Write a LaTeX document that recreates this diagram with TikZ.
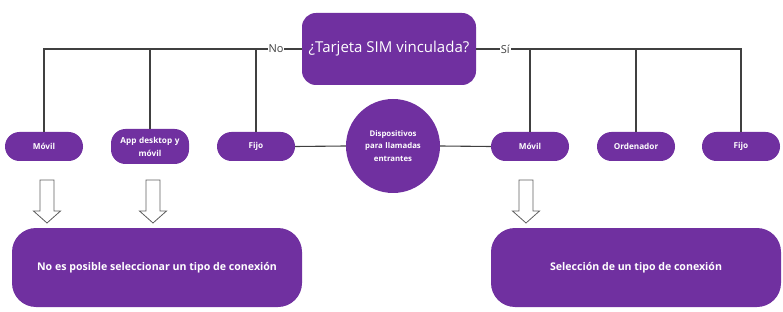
\documentclass[tikz,border=0pt]{standalone}
\usepackage{fontspec}
\setmainfont{Open Sans}
\usepackage{xcolor}
\usepackage{tikz}
\usetikzlibrary{positioning,calc}
\definecolor{cPurple}{HTML}{7030A0}
\definecolor{cLine}{HTML}{404040}
\definecolor{cArrow}{HTML}{606060}
\tikzset{
  box/.style    = {fill=cPurple, text=white, align=center, inner sep=2pt},
  question/.style = {box, rounded corners=14pt, minimum width=174pt,
                  minimum height=72pt, font=\fontsize{15}{17}\selectfont},
  pill/.style   = {box, rounded corners=14.5pt, minimum width=78pt,
                  minimum height=29pt, text width=74pt,
                  font=\bfseries\fontsize{8.2}{13}\selectfont},
  hub/.style    = {box, circle, minimum size=94pt, text width=66pt,
                  font=\bfseries\fontsize{7.8}{12.5}\selectfont},
  result/.style = {box, rounded corners=24pt, minimum width=290pt,
                  minimum height=79pt, font=\bfseries\fontsize{10.6}{13}\selectfont},
  link/.style   = {draw=cLine, line width=1.1pt},
  answer/.style = {fill=white, text=cLine, inner sep=1pt,
                  font=\fontsize{11}{13}\selectfont},
  hollow/.style = {draw=cArrow, fill=white, line width=0.8pt},
}

\begin{document}
\begin{tikzpicture}[x=1pt, y=-1pt]
  \useasboundingbox (0,0) rectangle (783,312);
  % question and the two branches
  \node[question] (sim) at (389,49) {¿Tarjeta SIM vinculada?};
  \node[pill] (movilNo) at (44,146.5)  {Móvil};
  \node[pill, minimum height=35pt] (appNo) at (150,146.5) {App desktop y\\móvil};
  \node[pill] (fijoNo)  at (256,146.5) {Fijo};
  \node[pill] (movilSi) at (530,146.5) {Móvil};
  \node[pill] (ordenSi) at (636,146.5) {Ordenador};
  \node[pill] (fijoSi)  at (741,146.5) {Fijo};
  \node[hub]  (disp)    at (393,146)   {Dispositivos\\para llamadas\\entrantes};
  % results
  \node[result] (noSel) at (157,267.5) {No es posible seleccionar un tipo de conexión};
  \node[result] (sel)   at (636,267.5) {Selección de un tipo de conexión};

  \draw[link] (sim.west) -- node[answer, pos=0.1] {No}
    (sim.west -| movilNo.north) -- (movilNo.north);
  \foreach \n in {appNo,fijoNo} \draw[link] (\n.north) -- (\n.north |- sim.west);
  \draw[link] (sim.east) -- node[answer, pos=0.11] {Sí}
    (sim.east -| fijoSi.north) -- (fijoSi.north);
  \foreach \n in {movilSi,ordenSi} \draw[link] (\n.north) -- (\n.north |- sim.east);
  \draw[link] (fijoNo.east) -- (disp.west);
  \draw[link] (disp.east) -- (movilSi.west);

  \foreach \ax in {47,153,526}
    \draw[hollow] (\ax-7,180) -- (\ax+7,180) -- (\ax+7,211) -- (\ax+13.5,211)
      -- (\ax,223) -- (\ax-13.5,211) -- (\ax-7,211) -- cycle;
\end{tikzpicture}
\end{document}
